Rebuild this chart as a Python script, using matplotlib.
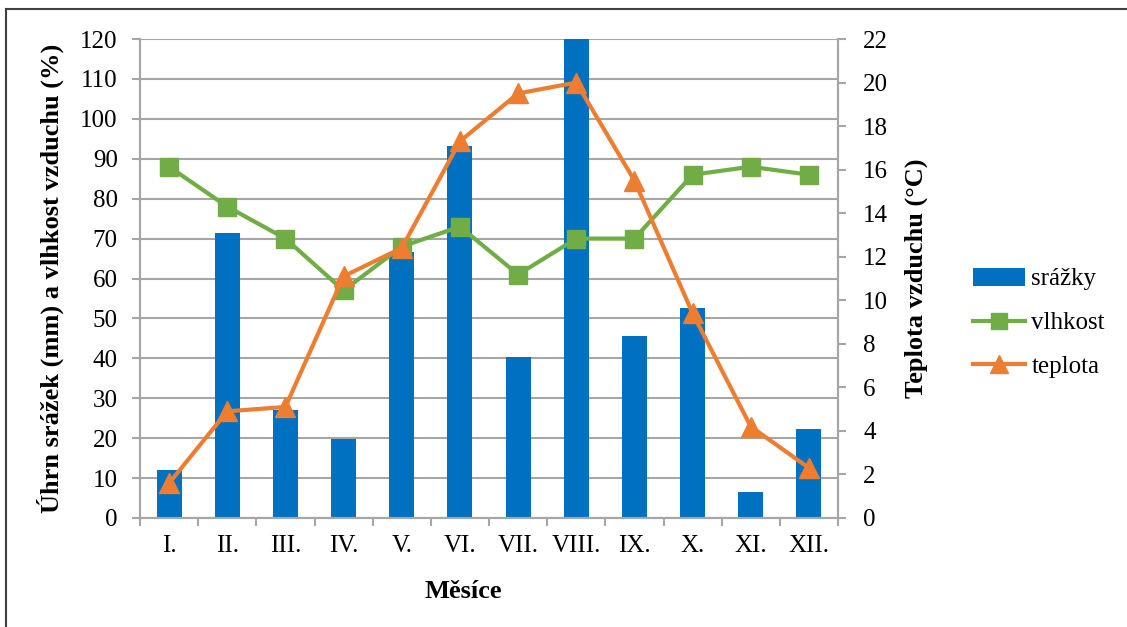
import matplotlib.pyplot as plt
from matplotlib.lines import Line2D
import numpy as np

plt.rcParams['font.family'] = ['Liberation Serif', 'DejaVu Serif']

# Data
mesice = ['I.', 'II.', 'III.', 'IV.', 'V.', 'VI.', 'VII.', 'VIII.', 'IX.', 'X.', 'XI.', 'XII.']
srazky = [12.0, 71.3, 27.0, 19.8, 66.7, 93.2, 40.3, 124.0, 45.6, 52.6, 6.6, 22.4]
vlhkost = [88, 78, 70, 57, 68, 73, 61, 70, 70, 86, 88, 86]
teplota = [1.6, 4.9, 5.1, 11.1, 12.4, 17.3, 19.5, 20.0, 15.5, 9.4, 4.2, 2.3]

blue = '#0070C0'
green = '#70AD47'
orange = '#ED7D31'
grid_c = '#A6A6A6'

W, H = 1127, 627
fig = plt.figure(figsize=(W / 100, H / 100), dpi=100)
ax = fig.add_axes([140 / W, 1 - 518 / H, 698 / W, 479 / H])
ax2 = ax.twinx()

x = np.arange(len(mesice))
bars = ax.bar(x, srazky, width=0.43, color=blue, label='srážky', zorder=2)
ln1, = ax.plot(x, vlhkost, color=green, lw=3, marker='s', ms=12.5, label='vlhkost', zorder=3)
ln2, = ax2.plot(x, teplota, color=orange, lw=3, marker='^', ms=14, label='teplota', zorder=4)

ax.set_xlim(-0.5, 11.5)
ax.set_ylim(0, 120)
ax.set_yticks(range(0, 121, 10))
ax2.set_ylim(0, 22)
ax2.set_yticks(range(0, 23, 2))

ax.yaxis.grid(True, color=grid_c, lw=1.5, zorder=0)
ax.set_axisbelow(True)

ax.set_xticks(x)
ax.set_xticklabels(mesice)
ax.set_xticks(np.arange(-0.5, 12, 1), minor=True)
ax.tick_params(axis='x', which='major', length=0, pad=12, labelsize=18)
ax.tick_params(axis='x', which='minor', length=6, color=grid_c, direction='out', width=1.5)
ax.tick_params(axis='y', length=6, color=grid_c, labelsize=18, pad=10, width=1.5)
ax2.tick_params(axis='y', length=6, color=grid_c, labelsize=18, pad=12, width=1.5)

for a in (ax, ax2):
    a.spines['top'].set_visible(False)
    for s in ('left', 'right', 'bottom'):
        a.spines[s].set_color(grid_c)
        a.spines[s].set_linewidth(1.5)

ax.set_xlabel('Měsíce', fontsize=19, fontweight='bold')
ax.xaxis.set_label_coords((463 - 140) / 698, -(592 - 518) / 479)
ax.xaxis.label.set_va('center')
ax.set_ylabel('Úhrn srážek (mm) a vlhkost vzduchu (%)', fontsize=19, fontweight='bold')
ax.yaxis.set_label_coords(-(140 - 50) / 698, 0.5)
ax.yaxis.label.set_va('center')
ax2.set_ylabel('Teplota vzduchu (°C)', fontsize=19, fontweight='bold')
ax2.yaxis.set_label_coords((916 - 140) / 698, 0.5)
ax2.yaxis.label.set_va('center')

ax2.set_zorder(ax.get_zorder() + 1)
ax2.patch.set_visible(False)

fig.legend([bars, ln1, ln2], ['srážky', 'vlhkost', 'teplota'],
           loc='center left', bbox_to_anchor=(950 / W, 1 - 323 / H),
           frameon=False, fontsize=18, handlelength=2.1, labelspacing=0.85,
           handletextpad=0.25, markerscale=0.9)

# outer frame (top and left edges visible)
fig.add_artist(Line2D([6 / W, 1], [1 - 9 / H, 1 - 9 / H], transform=fig.transFigure,
                      color='#404040', lw=1.5))
fig.add_artist(Line2D([6 / W, 6 / W], [0, 1 - 9 / H], transform=fig.transFigure,
                      color='#404040', lw=1.5))

fig.savefig('out.png', dpi=100)
